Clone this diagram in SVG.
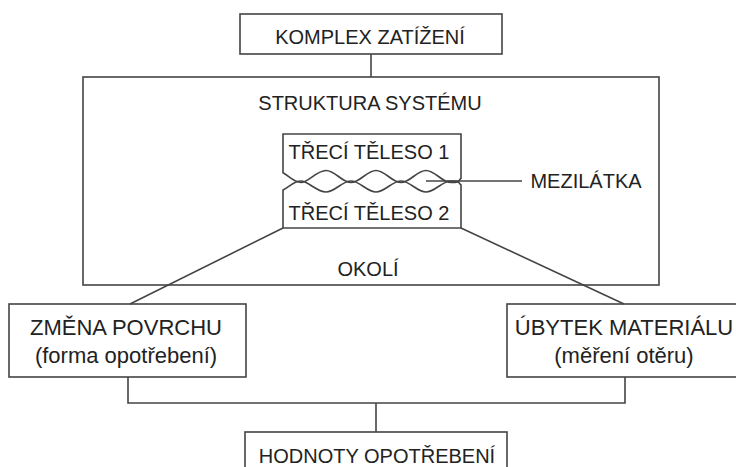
<svg xmlns="http://www.w3.org/2000/svg" width="736" height="467" viewBox="0 0 736 467">
<style>
.box{fill:#ffffff;stroke:#444444;stroke-width:1.6}
.body{fill:none;stroke:#444444;stroke-width:1.6}
.ln{fill:none;stroke:#444444;stroke-width:1.6}
text{font-family:"Liberation Sans",Arial,sans-serif;fill:#222222;text-anchor:middle}
.t20{font-size:20px}
.t22{font-size:22px}
</style>
<rect width="736" height="467" fill="#ffffff"/>
<g id="komplex-zatizeni">
<rect class="box" x="240" y="14" width="262" height="40"/>
<text class="t20" x="370" y="44">KOMPLEX ZATÍŽENÍ</text>
</g>
<g id="struktura-systemu">
<rect class="box" x="83" y="77" width="576" height="208"/>
<text class="t20" x="370" y="110">STRUKTURA SYSTÉMU</text>
<text class="t20" x="368" y="276">OKOLÍ</text>
</g>
<g id="treci-teleso-1">
<path class="body" d="M461,178.4 V134 H283 V172.7 C289,176 294,182.5 301,182.5 S316.9,170.5 326,170.5 S341.9,182.5 351,182.5 S366.9,170.5 376,170.5 S391.9,182.5 401,182.5 S416.9,170.5 426,170.5 S441.9,182.5 451,182.5 S458,181 461,178.4 Z"/>
<text class="t20" x="369" y="159">TŘECÍ TĚLESO 1</text>
</g>
<g id="treci-teleso-2">
<path class="body" d="M283,228 V190 C289,187 294,181 301,181 S316.9,192 326,192 S341.9,181 351,181 S366.9,192 376,192 S391.9,181 401,181 S416.9,192 426,192 S441.9,181 451,181 S458,182.5 461,184.8 V228 Z"/>
<text class="t20" x="369" y="220">TŘECÍ TĚLESO 2</text>
</g>
<g id="mezilatka">
<text class="t20" x="586" y="188">MEZILÁTKA</text>
</g>
<g id="zmena-povrchu">
<rect class="box" x="9" y="304" width="237" height="73"/>
<text class="t22" x="126" y="335">ZMĚNA POVRCHU</text>
<text class="t22" x="126" y="363">(forma opotřebení)</text>
</g>
<g id="ubytek-materialu">
<rect class="box" x="507" y="304" width="234" height="73"/>
<text class="t22" x="624" y="335">ÚBYTEK MATERIÁLU</text>
<text class="t22" x="624" y="363">(měření otěru)</text>
</g>
<g id="hodnoty-opotrebeni">
<rect class="box" x="245" y="432" width="262" height="50"/>
<text class="t20" x="377" y="463">HODNOTY OPOTŘEBENÍ</text>
</g>
<g id="connectors">
<line class="ln" x1="371" y1="54" x2="371" y2="77"/>
<line class="ln" x1="283" y1="228" x2="130" y2="304"/>
<line class="ln" x1="461" y1="228" x2="624" y2="304"/>
<line class="ln" x1="426" y1="181" x2="522" y2="181"/>
<polyline class="ln" points="128,377 128,403 625,403 625,377"/>
<line class="ln" x1="376" y1="403" x2="376" y2="432"/>
</g>
</svg>
